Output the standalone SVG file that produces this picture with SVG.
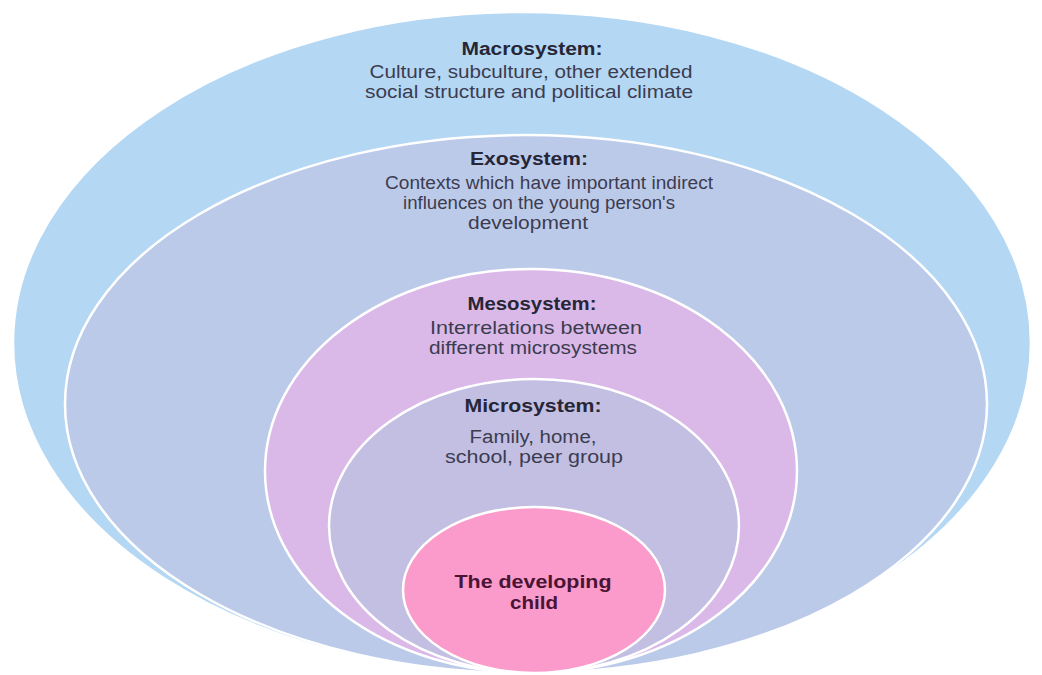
<svg xmlns="http://www.w3.org/2000/svg" width="1042" height="675" viewBox="0 0 1042 675">
<style>
.ring{stroke:#ffffff;stroke-width:2.5}
.h{font-family:"Liberation Sans",Arial,sans-serif;font-weight:bold;font-size:18px;fill:#262636;text-anchor:middle}
.t{font-family:"Liberation Sans",Arial,sans-serif;font-size:18px;fill:#3c3c50;text-anchor:middle}
.c{font-family:"Liberation Sans",Arial,sans-serif;font-weight:bold;font-size:18px;fill:#4a1434;text-anchor:middle}
</style>
<rect width="1042" height="675" fill="#ffffff"/>
<g id="macrosystem">
<ellipse class="ring" cx="522" cy="343" rx="509" ry="331" fill="#b4d7f4"/>
<text class="h" x="532" y="55" textLength="141" lengthAdjust="spacingAndGlyphs">Macrosystem:</text>
<text class="t" x="531" y="78" textLength="323" lengthAdjust="spacingAndGlyphs">Culture, subculture, other extended</text>
<text class="t" x="529" y="98" textLength="328" lengthAdjust="spacingAndGlyphs">social structure and political climate</text>
</g>
<g id="exosystem">
<ellipse class="ring" cx="526" cy="404" rx="461" ry="269" fill="#bccaea"/>
<text class="h" x="529" y="165" textLength="118" lengthAdjust="spacingAndGlyphs">Exosystem:</text>
<text class="t" x="549" y="189" textLength="328" lengthAdjust="spacingAndGlyphs">Contexts which have important indirect</text>
<text class="t" x="539" y="209" textLength="272" lengthAdjust="spacingAndGlyphs">influences on the young person's</text>
<text class="t" x="528" y="229" textLength="120" lengthAdjust="spacingAndGlyphs">development</text>
</g>
<g id="mesosystem">
<ellipse class="ring" cx="531" cy="471" rx="266" ry="202" fill="#dab9e8"/>
<text class="h" x="532" y="310" textLength="129" lengthAdjust="spacingAndGlyphs">Mesosystem:</text>
<text class="t" x="536" y="334" textLength="212" lengthAdjust="spacingAndGlyphs">Interrelations between</text>
<text class="t" x="533" y="354" textLength="208" lengthAdjust="spacingAndGlyphs">different microsystems</text>
</g>
<g id="microsystem">
<ellipse class="ring" cx="534" cy="526" rx="205" ry="147" fill="#c2bfe2"/>
<text class="h" x="533" y="412" textLength="137" lengthAdjust="spacingAndGlyphs">Microsystem:</text>
<text class="t" x="533" y="443" textLength="127" lengthAdjust="spacingAndGlyphs">Family, home,</text>
<text class="t" x="534" y="463" textLength="178" lengthAdjust="spacingAndGlyphs">school, peer group</text>
</g>
<g id="child">
<ellipse class="ring" cx="534" cy="590" rx="131" ry="83" fill="#fa9bcb"/>
<text class="c" x="533" y="588" textLength="157" lengthAdjust="spacingAndGlyphs">The developing</text>
<text class="c" x="534" y="609" textLength="48" lengthAdjust="spacingAndGlyphs">child</text>
</g>
<g id="connectors"/>
</svg>
